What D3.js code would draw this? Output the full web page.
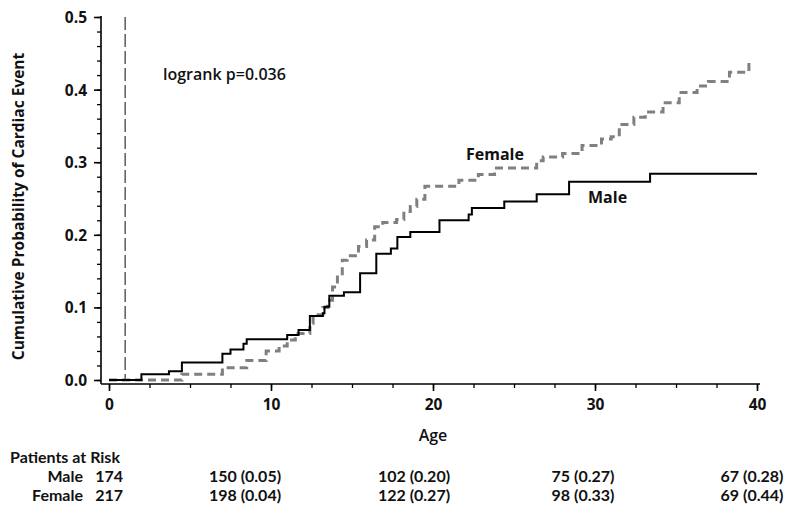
<!DOCTYPE html>
<html><head><meta charset="utf-8">
<script src="https://cdn.jsdelivr.net/npm/d3@7"></script>
<style>body{margin:0;background:#fff}text{font-family:"Open Sans",sans-serif;fill:#111}</style>
</head><body><svg id="c" width="800" height="514"></svg>
<script>
const maleCurve = [[0,0],[2.0,0.008],[3.7,0.012],[4.5,0.024],[7.0,0.036],[7.5,0.042],[8.3,0.050],[8.5,0.056],[11.0,0.062],[11.7,0.069],[12.4,0.088],[13.2,0.092],[13.3,0.101],[13.6,0.116],[14.5,0.121],[15.5,0.147],[16.5,0.174],[17.4,0.181],[17.8,0.197],[18.6,0.204],[20.4,0.220],[22.2,0.228],[22.4,0.237],[24.4,0.246],[26.4,0.256],[28.4,0.273],[33.4,0.284],[40,0.284]];
const femaleCurve = [[0,0],[4.5,0.008],[7.0,0.017],[8.5,0.027],[9.7,0.040],[10.5,0.047],[11.0,0.055],[11.5,0.064],[12.4,0.078],[12.6,0.090],[13.2,0.100],[13.5,0.110],[13.8,0.128],[14.1,0.142],[14.4,0.165],[14.7,0.171],[15.4,0.184],[15.9,0.193],[16.4,0.211],[16.9,0.217],[17.75,0.221],[18.2,0.232],[18.6,0.239],[19.0,0.249],[19.5,0.267],[21.6,0.275],[22.8,0.283],[23.8,0.292],[26.4,0.302],[26.8,0.307],[28.0,0.312],[29.2,0.323],[30.4,0.332],[31.0,0.335],[31.5,0.352],[32.4,0.362],[33.1,0.369],[34.2,0.382],[35.2,0.396],[36.3,0.405],[37.0,0.411],[38.3,0.424],[39.5,0.442]];
const xTicks = [0,10,20,30,40];
const yTicks = [0,0.1,0.2,0.3,0.4,0.5];
const refAge = 1;
const riskGroups = ["Male","Female"];
const riskStart = ["174","217"];
const riskAges = [10,20,30,40];
const riskMale = ["150 (0.05)","102 (0.20)","75 (0.27)","67 (0.28)"];
const riskFemale = ["198 (0.04)","122 (0.27)","98 (0.33)","69 (0.44)"];
const pvalText = "logrank p=0.036";

const svg = d3.select("#c");
const x = d3.scaleLinear().domain([0,40]).range([109,757]);
const y = d3.scaleLinear().domain([0,0.5]).range([380,17]);
const axisY = 384, axisX = 101;

// y axis
const ya = svg.append("g").attr("transform",`translate(${axisX},0)`);
ya.call(d3.axisLeft(y).tickValues(d3.range(0,0.5001,0.02)).tickSize(4).tickFormat(""));
ya.call(g=>g.selectAll(".tick line").attr("stroke","#000").attr("stroke-width",1.3));
ya.select(".domain").remove();
ya.append("line").attr("x1",0).attr("x2",0).attr("y1",y(0.5)-1).attr("y2",axisY).attr("stroke","#000").attr("stroke-width",1.6);
const ymaj = svg.append("g").attr("transform",`translate(${axisX},0)`)
  .call(d3.axisLeft(y).tickValues(yTicks).tickSize(7).tickFormat(d3.format(".1f")));
ymaj.select(".domain").remove();
ymaj.selectAll(".tick line").attr("stroke","#000").attr("stroke-width",1.6);
ymaj.selectAll(".tick text").attr("font-size",15.5).attr("font-weight",700).attr("x",-14).attr("dy","0.35em").style("font-family","'Open Sans',sans-serif");

// x axis
const xa = svg.append("g").attr("transform",`translate(0,${axisY})`);
xa.call(d3.axisBottom(x).tickValues(d3.range(0,40.01,2.5)).tickSize(4).tickFormat(""));
xa.select(".domain").remove();
xa.selectAll(".tick line").attr("stroke","#000").attr("stroke-width",1.3);
const xmaj = svg.append("g").attr("transform",`translate(0,${axisY})`)
  .call(d3.axisBottom(x).tickValues(xTicks).tickSize(7).tickFormat(d3.format("d")));
xmaj.select(".domain").remove();
xmaj.selectAll(".tick line").attr("stroke","#000").attr("stroke-width",1.6);
xmaj.selectAll(".tick text").attr("font-size",15.5).attr("font-weight",700).attr("y",15).style("font-family","'Open Sans',sans-serif");
svg.append("line").attr("x1",axisX).attr("x2",x(40)+3).attr("y1",axisY).attr("y2",axisY).attr("stroke","#000").attr("stroke-width",1.6);

// axis titles
svg.append("text").attr("transform",`translate(24,${(y(0.5)+y(0))/2+8}) rotate(-90)`).attr("text-anchor","middle")
  .attr("font-size",15.5).attr("font-weight",700).text("Cumulative Probability of Cardiac Event");
svg.append("text").attr("x",x(20)).attr("y",441).attr("text-anchor","middle").attr("font-size",16).attr("font-weight",600).text("Age");

// reference line
svg.append("line").attr("x1",x(refAge)).attr("x2",x(refAge)).attr("y1",y(0.5)).attr("y2",y(0))
  .attr("stroke","#666").attr("stroke-width",1.6).attr("stroke-dasharray","13,4");

const line = d3.line().x(d=>x(d[0])).y(d=>y(d[1])).curve(d3.curveStepAfter);
svg.append("path").datum(femaleCurve).attr("d",line).attr("fill","none").attr("stroke","#808080").attr("stroke-width",3).attr("stroke-dasharray","8,5");
svg.append("path").datum(maleCurve).attr("d",line).attr("fill","none").attr("stroke","#000").attr("stroke-width",2);

// labels
svg.append("text").attr("x",163).attr("y",80).attr("font-size",16).attr("font-weight",600).text(pvalText);
svg.append("text").attr("x",466).attr("y",160).attr("font-size",16).attr("font-weight",700).text("Female");
svg.append("text").attr("x",588).attr("y",203).attr("font-size",16).attr("font-weight",700).text("Male");

// risk table
const tf = "Lato, 'Open Sans', sans-serif";
const fs = 16;
const tx = d3.scaleLinear().domain([10,40]).range([245,752]);
svg.append("text").attr("x",10).attr("y",463).attr("font-size",fs).attr("font-weight",700).style("font-family",tf).text("Patients at Risk");
const rows = [riskMale, riskFemale];
riskGroups.forEach((g,i)=>{
  const yy = 482 + i*19;
  svg.append("text").attr("x",83).attr("y",yy).attr("text-anchor","end").attr("font-size",fs).attr("font-weight",700).style("font-family",tf).text(g);
  svg.append("text").attr("x",123).attr("y",yy).attr("text-anchor","end").attr("font-size",fs).attr("font-weight",700).style("font-family",tf).text(riskStart[i]);
  rows[i].forEach((t,j)=>{
    svg.append("text").attr("x",tx(riskAges[j])).attr("y",yy).attr("text-anchor","middle").attr("font-size",fs).attr("font-weight",700).style("font-family",tf).text(t);
  });
});
</script></body></html>
